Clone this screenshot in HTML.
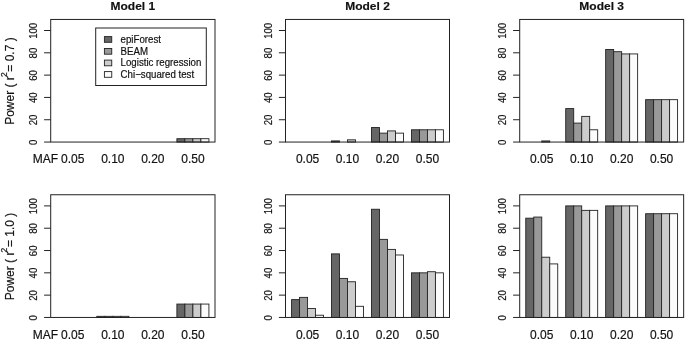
<!DOCTYPE html>
<html lang="en">
<head>
<meta charset="utf-8">
<title>Power comparison</title>
<style>
html,body{margin:0;padding:0;background:#fff;}
body{width:685px;height:341px;overflow:hidden;}
svg{display:block;filter:blur(0.3px);font-family:"Liberation Sans",Arial,Helvetica,sans-serif;fill:#111;}
text{stroke:#111;stroke-width:0.18;}
.ln{stroke:#222222;stroke-width:1;fill:none;}
.bar{stroke:#222222;stroke-width:0.9;}
.yt{font-size:9.6px;text-anchor:middle;}
.xt{font-size:12px;text-anchor:middle;}
.ti{font-size:12px;font-weight:bold;text-anchor:middle;}
.yl{font-size:12px;}
.lg{font-size:9.7px;}
</style>
</head>
<body>
<svg width="685" height="341" viewBox="0 0 685 341">
<rect x="0" y="0" width="685" height="341" fill="#ffffff" stroke="none"/>
<g>
<rect class="bar" x="176.89" y="138.70" width="8.01" height="3.35" fill="#666666"/>
<rect class="bar" x="184.89" y="138.70" width="8.01" height="3.35" fill="#999999"/>
<rect class="bar" x="192.90" y="138.70" width="8.01" height="3.35" fill="#cccccc"/>
<rect class="bar" x="200.91" y="138.70" width="8.01" height="3.35" fill="#fbfbfb"/>
<rect class="ln" x="50.70" y="19.45" width="164.30" height="122.60"/>
<line class="ln" x1="44.10" y1="142.05" x2="50.70" y2="142.05"/>
<text class="yt" transform="translate(36.70 142.35) rotate(-90) scale(1 1.08)">0</text>
<line class="ln" x1="44.10" y1="119.74" x2="50.70" y2="119.74"/>
<text class="yt" transform="translate(36.70 120.04) rotate(-90) scale(1 1.08)">20</text>
<line class="ln" x1="44.10" y1="97.43" x2="50.70" y2="97.43"/>
<text class="yt" transform="translate(36.70 97.73) rotate(-90) scale(1 1.08)">40</text>
<line class="ln" x1="44.10" y1="75.12" x2="50.70" y2="75.12"/>
<text class="yt" transform="translate(36.70 75.42) rotate(-90) scale(1 1.08)">60</text>
<line class="ln" x1="44.10" y1="52.81" x2="50.70" y2="52.81"/>
<text class="yt" transform="translate(36.70 53.11) rotate(-90) scale(1 1.08)">80</text>
<line class="ln" x1="44.10" y1="30.50" x2="50.70" y2="30.50"/>
<text class="yt" transform="translate(36.70 30.80) rotate(-90) scale(1 1.08)">100</text>
<text class="xt" x="72.80" y="162.90">0.05</text>
<text class="xt" x="112.83" y="162.90">0.10</text>
<text class="xt" x="152.87" y="162.90">0.20</text>
<text class="xt" x="192.90" y="162.90">0.50</text>
<text class="xt" style="text-anchor:start" x="32.80" y="162.90">MAF</text>
<g transform="translate(13.6 124.85) rotate(-90)"><text class="yl" x="0" y="0">Power ( r</text><text class="yl" style="font-size:8.5px" x="47.8" y="-6.6">2</text><text class="yl" x="53.2" y="0">= 0.7 )</text></g>
<text class="ti" transform="translate(132.85 10.4) scale(1 0.92)">Model 1</text>
</g>
<g>
<rect class="bar" x="331.54" y="140.93" width="7.99" height="1.12" fill="#666666"/>
<rect class="bar" x="347.52" y="139.82" width="7.99" height="2.23" fill="#cccccc"/>
<rect class="bar" x="371.50" y="127.55" width="7.99" height="14.50" fill="#666666"/>
<rect class="bar" x="379.49" y="133.13" width="7.99" height="8.92" fill="#999999"/>
<rect class="bar" x="387.48" y="130.90" width="7.99" height="11.15" fill="#cccccc"/>
<rect class="bar" x="395.47" y="133.13" width="7.99" height="8.92" fill="#fbfbfb"/>
<rect class="bar" x="411.46" y="129.78" width="7.99" height="12.27" fill="#666666"/>
<rect class="bar" x="419.45" y="129.78" width="7.99" height="12.27" fill="#999999"/>
<rect class="bar" x="427.44" y="129.78" width="7.99" height="12.27" fill="#cccccc"/>
<rect class="bar" x="435.43" y="129.78" width="7.99" height="12.27" fill="#fbfbfb"/>
<rect class="ln" x="285.50" y="19.45" width="164.00" height="122.60"/>
<line class="ln" x1="278.90" y1="142.05" x2="285.50" y2="142.05"/>
<text class="yt" transform="translate(271.50 142.35) rotate(-90) scale(1 1.08)">0</text>
<line class="ln" x1="278.90" y1="119.74" x2="285.50" y2="119.74"/>
<text class="yt" transform="translate(271.50 120.04) rotate(-90) scale(1 1.08)">20</text>
<line class="ln" x1="278.90" y1="97.43" x2="285.50" y2="97.43"/>
<text class="yt" transform="translate(271.50 97.73) rotate(-90) scale(1 1.08)">40</text>
<line class="ln" x1="278.90" y1="75.12" x2="285.50" y2="75.12"/>
<text class="yt" transform="translate(271.50 75.42) rotate(-90) scale(1 1.08)">60</text>
<line class="ln" x1="278.90" y1="52.81" x2="285.50" y2="52.81"/>
<text class="yt" transform="translate(271.50 53.11) rotate(-90) scale(1 1.08)">80</text>
<line class="ln" x1="278.90" y1="30.50" x2="285.50" y2="30.50"/>
<text class="yt" transform="translate(271.50 30.80) rotate(-90) scale(1 1.08)">100</text>
<text class="xt" x="307.56" y="162.90">0.05</text>
<text class="xt" x="347.52" y="162.90">0.10</text>
<text class="xt" x="387.48" y="162.90">0.20</text>
<text class="xt" x="427.44" y="162.90">0.50</text>
<text class="ti" transform="translate(367.50 10.4) scale(1 0.92)">Model 2</text>
</g>
<g>
<rect class="bar" x="541.75" y="140.93" width="7.99" height="1.12" fill="#cccccc"/>
<rect class="bar" x="565.72" y="108.59" width="7.99" height="33.46" fill="#666666"/>
<rect class="bar" x="573.71" y="123.09" width="7.99" height="18.96" fill="#999999"/>
<rect class="bar" x="581.70" y="116.39" width="7.99" height="25.66" fill="#cccccc"/>
<rect class="bar" x="589.69" y="129.78" width="7.99" height="12.27" fill="#fbfbfb"/>
<rect class="bar" x="605.67" y="49.46" width="7.99" height="92.59" fill="#666666"/>
<rect class="bar" x="613.66" y="51.69" width="7.99" height="90.36" fill="#999999"/>
<rect class="bar" x="621.65" y="53.93" width="7.99" height="88.12" fill="#cccccc"/>
<rect class="bar" x="629.64" y="53.93" width="7.99" height="88.12" fill="#fbfbfb"/>
<rect class="bar" x="645.62" y="99.66" width="7.99" height="42.39" fill="#666666"/>
<rect class="bar" x="653.61" y="99.66" width="7.99" height="42.39" fill="#999999"/>
<rect class="bar" x="661.60" y="99.66" width="7.99" height="42.39" fill="#cccccc"/>
<rect class="bar" x="669.59" y="99.66" width="7.99" height="42.39" fill="#fbfbfb"/>
<rect class="ln" x="519.70" y="19.45" width="163.95" height="122.60"/>
<line class="ln" x1="513.10" y1="142.05" x2="519.70" y2="142.05"/>
<text class="yt" transform="translate(505.70 142.35) rotate(-90) scale(1 1.08)">0</text>
<line class="ln" x1="513.10" y1="119.74" x2="519.70" y2="119.74"/>
<text class="yt" transform="translate(505.70 120.04) rotate(-90) scale(1 1.08)">20</text>
<line class="ln" x1="513.10" y1="97.43" x2="519.70" y2="97.43"/>
<text class="yt" transform="translate(505.70 97.73) rotate(-90) scale(1 1.08)">40</text>
<line class="ln" x1="513.10" y1="75.12" x2="519.70" y2="75.12"/>
<text class="yt" transform="translate(505.70 75.42) rotate(-90) scale(1 1.08)">60</text>
<line class="ln" x1="513.10" y1="52.81" x2="519.70" y2="52.81"/>
<text class="yt" transform="translate(505.70 53.11) rotate(-90) scale(1 1.08)">80</text>
<line class="ln" x1="513.10" y1="30.50" x2="519.70" y2="30.50"/>
<text class="yt" transform="translate(505.70 30.80) rotate(-90) scale(1 1.08)">100</text>
<text class="xt" x="541.75" y="162.90">0.05</text>
<text class="xt" x="581.70" y="162.90">0.10</text>
<text class="xt" x="621.65" y="162.90">0.20</text>
<text class="xt" x="661.60" y="162.90">0.50</text>
<text class="ti" transform="translate(601.67 10.4) scale(1 0.92)">Model 3</text>
</g>
<g>
<rect class="bar" x="96.82" y="316.33" width="8.01" height="1.12" fill="#666666"/>
<rect class="bar" x="104.83" y="316.33" width="8.01" height="1.12" fill="#999999"/>
<rect class="bar" x="112.83" y="316.33" width="8.01" height="1.12" fill="#cccccc"/>
<rect class="bar" x="120.84" y="316.33" width="8.01" height="1.12" fill="#fbfbfb"/>
<rect class="bar" x="176.89" y="304.06" width="8.01" height="13.39" fill="#666666"/>
<rect class="bar" x="184.89" y="304.06" width="8.01" height="13.39" fill="#999999"/>
<rect class="bar" x="192.90" y="304.06" width="8.01" height="13.39" fill="#cccccc"/>
<rect class="bar" x="200.91" y="304.06" width="8.01" height="13.39" fill="#fbfbfb"/>
<rect class="ln" x="50.70" y="194.75" width="164.30" height="122.70"/>
<line class="ln" x1="44.10" y1="317.45" x2="50.70" y2="317.45"/>
<text class="yt" transform="translate(36.70 317.75) rotate(-90) scale(1 1.08)">0</text>
<line class="ln" x1="44.10" y1="295.14" x2="50.70" y2="295.14"/>
<text class="yt" transform="translate(36.70 295.44) rotate(-90) scale(1 1.08)">20</text>
<line class="ln" x1="44.10" y1="272.83" x2="50.70" y2="272.83"/>
<text class="yt" transform="translate(36.70 273.13) rotate(-90) scale(1 1.08)">40</text>
<line class="ln" x1="44.10" y1="250.52" x2="50.70" y2="250.52"/>
<text class="yt" transform="translate(36.70 250.82) rotate(-90) scale(1 1.08)">60</text>
<line class="ln" x1="44.10" y1="228.21" x2="50.70" y2="228.21"/>
<text class="yt" transform="translate(36.70 228.51) rotate(-90) scale(1 1.08)">80</text>
<line class="ln" x1="44.10" y1="205.90" x2="50.70" y2="205.90"/>
<text class="yt" transform="translate(36.70 206.20) rotate(-90) scale(1 1.08)">100</text>
<text class="xt" x="72.80" y="338.75">0.05</text>
<text class="xt" x="112.83" y="338.75">0.10</text>
<text class="xt" x="152.87" y="338.75">0.20</text>
<text class="xt" x="192.90" y="338.75">0.50</text>
<text class="xt" style="text-anchor:start" x="32.80" y="338.75">MAF</text>
<g transform="translate(13.6 300.25) rotate(-90)"><text class="yl" x="0" y="0">Power ( r</text><text class="yl" style="font-size:8.5px" x="47.8" y="-6.6">2</text><text class="yl" x="53.2" y="0">= 1.0 )</text></g>
</g>
<g>
<rect class="bar" x="291.57" y="299.60" width="7.99" height="17.85" fill="#666666"/>
<rect class="bar" x="299.57" y="297.37" width="7.99" height="20.08" fill="#999999"/>
<rect class="bar" x="307.56" y="308.53" width="7.99" height="8.92" fill="#cccccc"/>
<rect class="bar" x="315.55" y="315.22" width="7.99" height="2.23" fill="#fbfbfb"/>
<rect class="bar" x="331.54" y="253.87" width="7.99" height="63.58" fill="#666666"/>
<rect class="bar" x="339.53" y="278.41" width="7.99" height="39.04" fill="#999999"/>
<rect class="bar" x="347.52" y="281.75" width="7.99" height="35.70" fill="#cccccc"/>
<rect class="bar" x="355.51" y="306.30" width="7.99" height="11.15" fill="#fbfbfb"/>
<rect class="bar" x="371.50" y="209.25" width="7.99" height="108.20" fill="#666666"/>
<rect class="bar" x="379.49" y="239.37" width="7.99" height="78.08" fill="#999999"/>
<rect class="bar" x="387.48" y="249.40" width="7.99" height="68.05" fill="#cccccc"/>
<rect class="bar" x="395.47" y="254.98" width="7.99" height="62.47" fill="#fbfbfb"/>
<rect class="bar" x="411.46" y="272.83" width="7.99" height="44.62" fill="#666666"/>
<rect class="bar" x="419.45" y="272.83" width="7.99" height="44.62" fill="#999999"/>
<rect class="bar" x="427.44" y="271.71" width="7.99" height="45.74" fill="#cccccc"/>
<rect class="bar" x="435.43" y="272.83" width="7.99" height="44.62" fill="#fbfbfb"/>
<rect class="ln" x="285.50" y="194.75" width="164.00" height="122.70"/>
<line class="ln" x1="278.90" y1="317.45" x2="285.50" y2="317.45"/>
<text class="yt" transform="translate(271.50 317.75) rotate(-90) scale(1 1.08)">0</text>
<line class="ln" x1="278.90" y1="295.14" x2="285.50" y2="295.14"/>
<text class="yt" transform="translate(271.50 295.44) rotate(-90) scale(1 1.08)">20</text>
<line class="ln" x1="278.90" y1="272.83" x2="285.50" y2="272.83"/>
<text class="yt" transform="translate(271.50 273.13) rotate(-90) scale(1 1.08)">40</text>
<line class="ln" x1="278.90" y1="250.52" x2="285.50" y2="250.52"/>
<text class="yt" transform="translate(271.50 250.82) rotate(-90) scale(1 1.08)">60</text>
<line class="ln" x1="278.90" y1="228.21" x2="285.50" y2="228.21"/>
<text class="yt" transform="translate(271.50 228.51) rotate(-90) scale(1 1.08)">80</text>
<line class="ln" x1="278.90" y1="205.90" x2="285.50" y2="205.90"/>
<text class="yt" transform="translate(271.50 206.20) rotate(-90) scale(1 1.08)">100</text>
<text class="xt" x="307.56" y="338.75">0.05</text>
<text class="xt" x="347.52" y="338.75">0.10</text>
<text class="xt" x="387.48" y="338.75">0.20</text>
<text class="xt" x="427.44" y="338.75">0.50</text>
</g>
<g>
<rect class="bar" x="525.77" y="218.17" width="7.99" height="99.28" fill="#666666"/>
<rect class="bar" x="533.76" y="217.06" width="7.99" height="100.39" fill="#999999"/>
<rect class="bar" x="541.75" y="257.21" width="7.99" height="60.24" fill="#cccccc"/>
<rect class="bar" x="549.74" y="263.91" width="7.99" height="53.54" fill="#fbfbfb"/>
<rect class="bar" x="565.72" y="205.90" width="7.99" height="111.55" fill="#666666"/>
<rect class="bar" x="573.71" y="205.90" width="7.99" height="111.55" fill="#999999"/>
<rect class="bar" x="581.70" y="210.36" width="7.99" height="107.09" fill="#cccccc"/>
<rect class="bar" x="589.69" y="210.36" width="7.99" height="107.09" fill="#fbfbfb"/>
<rect class="bar" x="605.67" y="205.90" width="7.99" height="111.55" fill="#666666"/>
<rect class="bar" x="613.66" y="205.90" width="7.99" height="111.55" fill="#999999"/>
<rect class="bar" x="621.65" y="205.90" width="7.99" height="111.55" fill="#cccccc"/>
<rect class="bar" x="629.64" y="205.90" width="7.99" height="111.55" fill="#fbfbfb"/>
<rect class="bar" x="645.62" y="213.71" width="7.99" height="103.74" fill="#666666"/>
<rect class="bar" x="653.61" y="213.71" width="7.99" height="103.74" fill="#999999"/>
<rect class="bar" x="661.60" y="213.71" width="7.99" height="103.74" fill="#cccccc"/>
<rect class="bar" x="669.59" y="213.71" width="7.99" height="103.74" fill="#fbfbfb"/>
<rect class="ln" x="519.70" y="194.75" width="163.95" height="122.70"/>
<line class="ln" x1="513.10" y1="317.45" x2="519.70" y2="317.45"/>
<text class="yt" transform="translate(505.70 317.75) rotate(-90) scale(1 1.08)">0</text>
<line class="ln" x1="513.10" y1="295.14" x2="519.70" y2="295.14"/>
<text class="yt" transform="translate(505.70 295.44) rotate(-90) scale(1 1.08)">20</text>
<line class="ln" x1="513.10" y1="272.83" x2="519.70" y2="272.83"/>
<text class="yt" transform="translate(505.70 273.13) rotate(-90) scale(1 1.08)">40</text>
<line class="ln" x1="513.10" y1="250.52" x2="519.70" y2="250.52"/>
<text class="yt" transform="translate(505.70 250.82) rotate(-90) scale(1 1.08)">60</text>
<line class="ln" x1="513.10" y1="228.21" x2="519.70" y2="228.21"/>
<text class="yt" transform="translate(505.70 228.51) rotate(-90) scale(1 1.08)">80</text>
<line class="ln" x1="513.10" y1="205.90" x2="519.70" y2="205.90"/>
<text class="yt" transform="translate(505.70 206.20) rotate(-90) scale(1 1.08)">100</text>
<text class="xt" x="541.75" y="338.75">0.05</text>
<text class="xt" x="581.70" y="338.75">0.10</text>
<text class="xt" x="621.65" y="338.75">0.20</text>
<text class="xt" x="661.60" y="338.75">0.50</text>
</g>
<g>
<rect class="ln" x="95.7" y="28.0" width="110.6" height="57.5" fill="#fff" style="fill:#fff"/>
<rect class="bar" x="104.4" y="36.60" width="7.35" height="5.7" fill="#666666"/>
<text class="lg" transform="translate(120.6 43.10) scale(1 1.08)">epiForest</text>
<rect class="bar" x="104.4" y="48.50" width="7.35" height="5.7" fill="#999999"/>
<text class="lg" transform="translate(120.6 54.60) scale(1 1.08)">BEAM</text>
<rect class="bar" x="104.4" y="60.10" width="7.35" height="5.7" fill="#cccccc"/>
<text class="lg" transform="translate(120.6 66.20) scale(1 1.08)">Logistic regression</text>
<rect class="bar" x="104.4" y="71.60" width="7.35" height="5.7" fill="#fbfbfb"/>
<text class="lg" transform="translate(120.6 77.70) scale(1 1.08)">Chi−squared test</text>
</g>
</svg>
</body>
</html>
